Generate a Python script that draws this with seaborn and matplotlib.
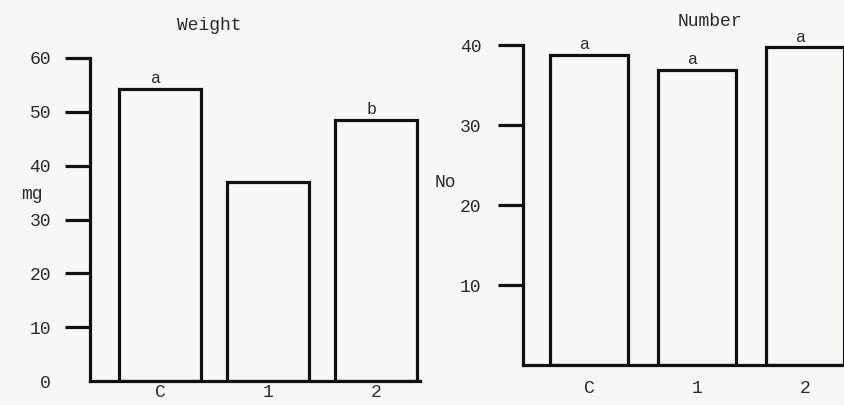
import matplotlib
matplotlib.use("Agg")
import matplotlib.pyplot as plt
import seaborn as sns
import pandas as pd

# ---- data ----
groups = ["C", "1", "2"]
weight = [54.2, 37.0, 48.5]
number = [38.8, 36.9, 39.7]
weight_letters = ["a", "", "b"]
number_letters = ["a", "a", "a"]
weight_ticks = [0, 10, 20, 30, 40, 50, 60]
number_ticks = [10, 20, 30, 40]

sns.set_style("white")
plt.rcParams["font.family"] = ["Liberation Mono", "DejaVu Sans"]

INK = "#111111"
TXT = "#2a2a2a"
BG = "#f8f8f6"
FS = 13
LW = 2.3

fig = plt.figure(figsize=(8.45, 4.05), dpi=100, facecolor=BG)

def panel(rect, vals, letters, ylim, yticks, xlim, width, title, title_xy,
          ylabel, ylabel_xy, xpad, ypad, hide_zero_tick):
    ax = fig.add_axes(rect)
    ax.set_facecolor("none")
    df = pd.DataFrame({"g": groups, "v": vals})
    sns.barplot(data=df, x="g", y="v", order=groups, ax=ax, color=BG,
                saturation=1, edgecolor=INK, linewidth=LW, width=width)
    ax.set_xlim(*xlim)
    ax.set_ylim(*ylim)
    ax.set_yticks(yticks)
    ax.set_yticklabels([str(t) for t in yticks])
    for s in ("top", "right"):
        ax.spines[s].set_visible(False)
    for s in ("left", "bottom"):
        ax.spines[s].set_color(INK)
        ax.spines[s].set_linewidth(LW)
    ax.tick_params(axis="y", left=True, direction="out", length=18, width=LW,
                   color=INK, labelsize=FS, labelcolor=TXT, pad=ypad)
    ax.tick_params(axis="x", bottom=False, length=0, labelsize=FS,
                   labelcolor=TXT, pad=xpad)
    if hide_zero_tick:
        ax.yaxis.get_major_ticks()[0].tick1line.set_visible(False)
    ax.set_xlabel("")
    ax.set_ylabel(ylabel, rotation=0, fontsize=FS, color=TXT)
    ax.yaxis.set_label_coords(*ylabel_xy)
    ax.text(title_xy[0], title_xy[1], title, transform=ax.transAxes,
            ha="center", va="center", fontsize=FS, color=TXT)
    for i, (v, l) in enumerate(zip(vals, letters)):
        if l:
            ax.annotate(l, (i, v), xytext=(-3, 2), textcoords="offset points",
                        ha="center", va="bottom", fontsize=FS - 1, color=TXT)
    return ax

panel([90/845, 24/405, 330/845, 323/405], weight, weight_letters, (0, 60),
      weight_ticks, (-0.648, 2.407), 0.76, "Weight", (0.36, 1.10),
      "mg", (-0.175, 0.55), 2, 10, True)

panel([523/845, 40/405, 322/845, 320/405], number, number_letters, (0, 40),
      number_ticks, (-0.611, 2.37), 0.72, "Number", (0.58, 1.072),
      "No", (-0.24, 0.545), 11, 12, False)

fig.savefig("out.png", dpi=100, facecolor=BG)
